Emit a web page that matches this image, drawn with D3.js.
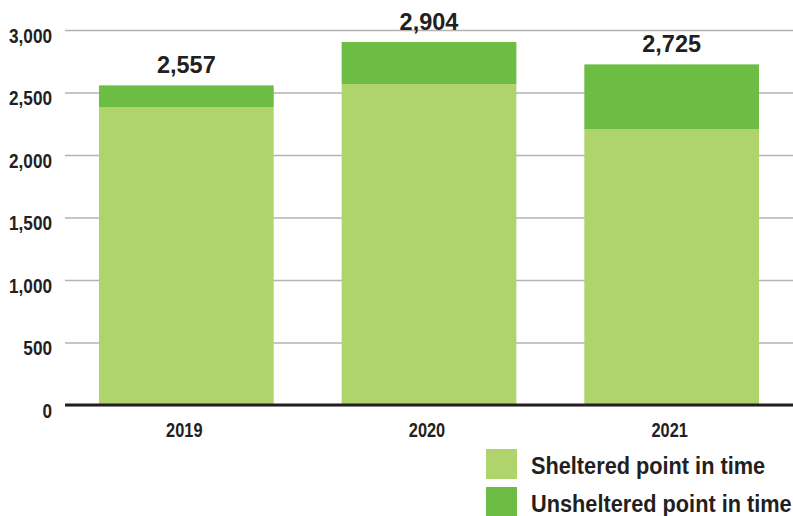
<!DOCTYPE html>
<html>
<head>
<meta charset="utf-8">
<script src="https://cdn.jsdelivr.net/npm/d3@7"></script>
<style>
  body { margin: 0; background: #fff; }
  svg { display: block; }
</style>
</head>
<body>
<svg></svg>
<script>
let years = ['2019', '2020', '2021'];
let sheltered = [2384, 2568, 2208];
let unsheltered = [173, 336, 517];
let totals = [2557, 2904, 2725];
let yTicks = [0, 500, 1000, 1500, 2000, 2500, 3000];
let seriesNames = ['Sheltered point in time', 'Unsheltered point in time'];
let colors = ['#b0d46c', '#6dbd45'];

let width = 793;
let height = 516;
let plotLeft = 65;
let plotRight = 793;
let plotTop = 30;
let plotBottom = 405;
let textColor = '#231f20';
let font = '"Liberation Sans", Arial, sans-serif';

let svg = d3.select('svg').attr('width', width).attr('height', height);

let xScale = d3.scaleBand()
               .domain(years)
               .range([plotLeft, plotRight])
               .paddingInner(0.28)
               .paddingOuter(0.14);
let yScale = d3.scaleLinear().domain([0, 3000]).range([plotBottom, plotTop]);

// grid lines + y labels (labels squeezed to look condensed)
let ySqueeze = 0.86;
let yAxis = d3.axisLeft(yScale)
              .tickValues(yTicks)
              .tickSize(-(plotRight - plotLeft))
              .tickFormat(d3.format(','));
let gy = svg.append('g')
            .attr('transform', 'translate(' + plotLeft + ',0)')
            .call(yAxis);
gy.select('.domain').remove();
gy.selectAll('.tick line').attr('stroke', '#b3b3b3').attr('stroke-width', 1.6);
gy.selectAll('.tick text')
  .attr('x', -13 / ySqueeze)
  .attr('y', 5)
  .attr('dy', '0.35em')
  .attr('transform', 'scale(' + ySqueeze + ',1)')
  .attr('fill', textColor)
  .style('font-family', font)
  .style('font-weight', 'bold')
  .style('font-size', '20px');

let stacked = years.map((y, i) => ({year: y, parts: [[0, sheltered[i]], [sheltered[i], sheltered[i] + unsheltered[i]]]}));

stacked.forEach((d) => {
    svg.selectAll(null)
       .data(d.parts)
       .enter()
       .append('rect')
       .attr('x', xScale(d.year))
       .attr('width', xScale.bandwidth())
       .attr('y', (p) => yScale(p[1]))
       .attr('height', (p) => yScale(p[0]) - yScale(p[1]))
       .attr('fill', (p, j) => colors[j]);
});

// baseline
svg.append('line')
   .attr('x1', plotLeft).attr('x2', plotRight)
   .attr('y1', yScale(0)).attr('y2', yScale(0))
   .attr('stroke', textColor)
   .attr('stroke-width', 3);

// x labels
let xSqueeze = 0.84;
let xAxis = d3.axisBottom(xScale).tickSize(0);
let gx = svg.append('g')
            .attr('transform', 'translate(0,' + plotBottom + ')')
            .call(xAxis);
gx.select('.domain').remove();
gx.selectAll('.tick text')
  .attr('x', -2 / xSqueeze)
  .attr('y', 18)
  .attr('dy', '0.71em')
  .attr('transform', 'scale(' + xSqueeze + ',1)')
  .attr('fill', textColor)
  .style('font-family', font)
  .style('font-weight', 'bold')
  .style('font-size', '19.5px');

// totals
svg.selectAll('.total')
   .data(years)
   .enter()
   .append('text')
   .attr('class', 'total')
   .attr('x', (d) => xScale(d) + xScale.bandwidth() / 2)
   .attr('y', (d, i) => yScale(totals[i]) - 12)
   .attr('text-anchor', 'middle')
   .attr('fill', textColor)
   .style('font-family', font)
   .style('font-weight', 'bold')
   .style('font-size', '23.5px')
   .text((d, i) => d3.format(',')(totals[i]));

// legend
let legendSqueeze = 0.906;
let legend = svg.selectAll('.legend')
                .data(seriesNames)
                .enter()
                .append('g')
                .attr('class', 'legend')
                .attr('transform', (d, i) => 'translate(486,' + (449 + i * 38) + ')');
legend.append('rect')
      .attr('width', 31)
      .attr('height', 30)
      .attr('fill', (d, i) => colors[i]);
legend.append('text')
      .attr('transform', 'translate(45,25) scale(' + legendSqueeze + ',1)')
      .attr('fill', textColor)
      .style('font-family', font)
      .style('font-weight', 'bold')
      .style('font-size', '24px')
      .text((d) => d);
</script>
</body>
</html>
